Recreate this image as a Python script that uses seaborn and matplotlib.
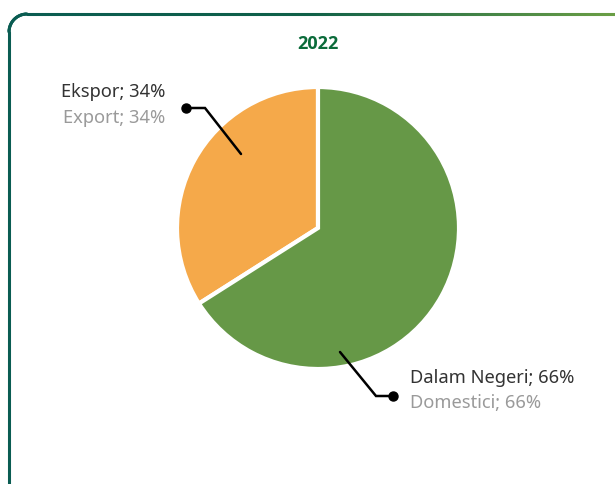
import matplotlib
matplotlib.use("Agg")
import matplotlib.pyplot as plt
import matplotlib.colors as mcolors
from matplotlib.collections import LineCollection
import numpy as np
import seaborn as sns

# -------------------------------
# 1. Data
# -------------------------------
title = "2022"
labels_id = ["Ekspor", "Dalam Negeri"]
labels_en = ["Export", "Domestici"]
shares = [34, 66]
colors = ["#F5A94A", "#669847"]

sns.set_theme(style="white")
plt.rcParams["font.family"] = ["Noto Sans", "DejaVu Sans"]

W, H = 615, 484
fig = plt.figure(figsize=(W / 100, H / 100), dpi=100)

# overlay axes in pixel units (border, title, labels)
over = fig.add_axes([0, 0, 1, 1])
over.set_xlim(0, W)
over.set_ylim(H, 0)
over.axis("off")

# -------------------------------
# 2. Rounded border with green gradient
# -------------------------------
x0, y0, r = 9, 14, 18
t = np.linspace(np.pi, 1.5 * np.pi, 30)
arc_x = x0 + r + r * np.cos(t)
arc_y = y0 + r + r * np.sin(t)
top_x = np.linspace(x0 + r, W + 5, 200)
px = np.concatenate([[x0, x0], arc_x, top_x])
py = np.concatenate([[H + 5, y0 + r], arc_y, np.full_like(top_x, y0)])
pts = np.column_stack([px, py]).reshape(-1, 1, 2)
segs = np.concatenate([pts[:-1], pts[1:]], axis=1)
cmap = mcolors.LinearSegmentedColormap.from_list("g", ["#0A5C52", "#0F6048", "#6A9E45"])
mid_x = (segs[:, 0, 0] + segs[:, 1, 0]) / 2
lc = LineCollection(segs, colors=cmap(mid_x / W), linewidth=2.2, capstyle="round")
over.add_collection(lc)

over.text(318, 44, title, ha="center", va="center", fontsize=13,
          fontweight="bold", color="#0B6B3A", family=["Open Sans", "DejaVu Sans"])

# -------------------------------
# 3. Pie chart
# -------------------------------
cx, cy, rad = 318, 228, 141
half = 1.25 * rad
ax = fig.add_axes([(cx - half) / W, (H - cy - half) / H, 2 * half / W, 2 * half / H])
ax.pie(shares, colors=colors, startangle=90, counterclock=True,
       wedgeprops=dict(edgecolor="white", linewidth=3))
ax.set_xlim(-1.25, 1.25)
ax.set_ylim(-1.25, 1.25)
ax.set_aspect("equal")
ax.axis("off")

# -------------------------------
# 4. Leader lines and labels
# -------------------------------
over.set_zorder(ax.get_zorder() + 1)
over.patch.set_alpha(0)

fs = 13.2

# Ekspor
over.plot([241, 205, 186], [154, 108, 108], color="black", lw=1.8, solid_joinstyle="miter")
over.plot(186, 108, "o", color="black", ms=6.5)
over.text(165, 92, f"{labels_id[0]}; {shares[0]}%", ha="right", va="center",
          fontsize=fs, color="#333333")
over.text(165, 118, f"{labels_en[0]}; {shares[0]}%", ha="right", va="center",
          fontsize=fs, color="#9A9A9A")

# Dalam Negeri
over.plot([340, 376, 393], [352, 396, 396], color="black", lw=1.8, solid_joinstyle="miter")
over.plot(393, 396, "o", color="black", ms=6.5)
over.text(410, 378, f"{labels_id[1]}; {shares[1]}%", ha="left", va="center",
          fontsize=fs, color="#333333")
over.text(410, 403, f"{labels_en[1]}; {shares[1]}%", ha="left", va="center",
          fontsize=fs, color="#9A9A9A")

fig.savefig("out.png", dpi=100)
